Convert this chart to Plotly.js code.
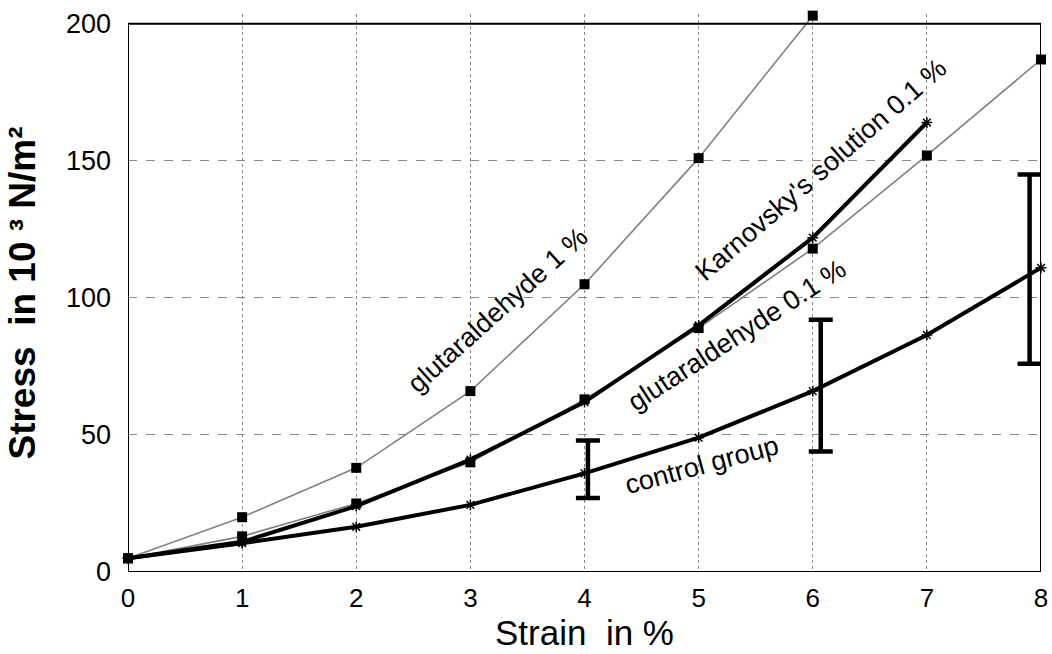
<!DOCTYPE html>
<html><head><meta charset="utf-8">
<script src="https://cdn.plot.ly/plotly-3.0.1.min.js"></script>
<style>html,body{margin:0;padding:0;background:#fff}#chart{width:1052px;height:654px}</style>
</head><body><div id="chart"></div>
<script>
const strain = [0, 1, 2, 3, 4, 5, 6, 7, 8];
const glut1 = [5, 20, 38, 66, 105, 151, 203];
const glut01 = [5, 13, 25, 40, 63, 89, 118, 152, 187];
const karnovsky = [5, 11, 24, 41, 62, 90, 122, 164];
const control = [5, 10.5, 16.5, 24.5, 36, 49, 66, 86.5, 111];
const errX = [4.03, 6.07, 7.9];
const errMid = [36, 66, 111];
const errUp = [12, 26, 34];
const errDown = [9, 22, 35];

const font = 'Liberation Sans, Arial, sans-serif';
const traces = [
  {x: strain.slice(0, glut1.length), y: glut1, mode: 'lines+markers', cliponaxis: false,
   line: {color: '#808080', width: 1.6}, marker: {symbol: 'square', size: 10, color: '#000'}},
  {x: strain.slice(0, glut01.length), y: glut01, mode: 'lines+markers', cliponaxis: false,
   line: {color: '#808080', width: 1.6}, marker: {symbol: 'square', size: 10, color: '#000'}},
  {x: strain.slice(0, karnovsky.length), y: karnovsky, mode: 'lines+markers', cliponaxis: false,
   line: {color: '#000', width: 4}, marker: {symbol: 'asterisk-open', size: 9, color: '#000', line: {width: 1.5, color: '#555'}}},
  {x: strain.slice(0, control.length), y: control, mode: 'lines+markers', cliponaxis: false,
   line: {color: '#000', width: 4}, marker: {symbol: 'asterisk-open', size: 9, color: '#000', line: {width: 1.5, color: '#555'}}},
  {x: errX, y: errMid, mode: 'markers', cliponaxis: false, marker: {size: 1, opacity: 0},
   error_y: {type: 'data', symmetric: false, array: errUp, arrayminus: errDown, color: '#000', thickness: 4.5, width: 12}}
];

const labels = [
  {text: 'glutaraldehyde 1 %', x: 3.24, y: 95.6, angle: -42},
  {text: "Karnovsky's solution 0.1 %", x: 6.07, y: 146.7, angle: -41},
  {text: 'glutaraldehyde 0.1 %', x: 5.34, y: 86.5, angle: -33},
  {text: 'control group', x: 5.03, y: 39, angle: -15}
];

const layout = {
  width: 1052, height: 654,
  margin: {l: 128, r: 11, t: 14, b: 82},
  paper_bgcolor: '#fff', plot_bgcolor: '#fff',
  showlegend: false,
  font: {family: font, color: '#000', size: 27},
  xaxis: {range: [0, 8], tickvals: [0,1,2,3,4,5,6,7,8], showgrid: true, gridcolor: '#888', griddash: 'dot', gridwidth: 1,
    zeroline: false, showline: false, ticks: '',
    tickfont: {size: 26, family: font}, ticklabelstandoff: 8,
    title: {text: 'Strain  in %', font: {size: 35, family: font}, standoff: 2}},
  yaxis: {range: [0, 203.6], tickvals: [0,50,100,150,200], showgrid: true, gridcolor: '#888', griddash: 'dash', gridwidth: 1,
    zeroline: false, showline: false, ticks: '',
    tickfont: {size: 27, family: font}, ticklabelstandoff: 16,
    title: {text: '<b>Stress  in 10 ³ N/m²</b>', font: {size: 37, family: font}, standoff: 18}},
  shapes: [{type: 'rect', xref: 'x', yref: 'y', x0: 0, x1: 8, y0: 0, y1: 200, line: {color: '#000', width: 2}, layer: 'above'}],
  annotations: labels.map(l => ({text: l.text, x: l.x, y: l.y, xref: 'x', yref: 'y', showarrow: false,
    textangle: l.angle, font: {size: 27, family: font, color: '#000'}}))
};
Plotly.newPlot('chart', traces, layout, {displayModeBar: false, staticPlot: true});
</script></body></html>
